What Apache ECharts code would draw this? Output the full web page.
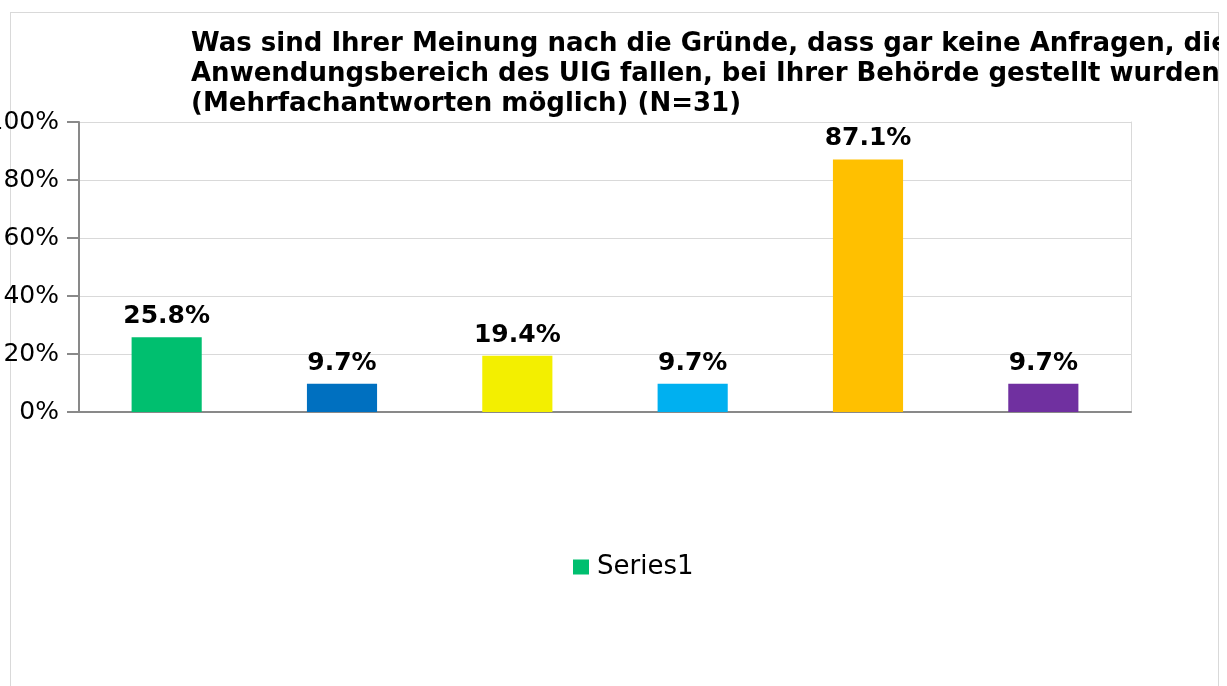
<!DOCTYPE html>
<html>
<head>
<meta charset="utf-8">
<script src="https://cdn.jsdelivr.net/npm/echarts@6/dist/echarts.min.js"></script>
<style>
  html, body { margin: 0; padding: 0; background: #fff; overflow: hidden; }
  #frame { position: absolute; left: 10px; top: 12px; width: 1207px; height: 700px; border: 1px solid #d9d9d9; }
  #chart { position: absolute; left: 0; top: 0; width: 1219px; height: 686px; }
</style>
</head>
<body>
<div id="frame"></div>
<div id="chart"></div>
<script>
// chart data
const categories = ['1', '2', '3', '4', '5', '6'];
const values = [25.8, 9.7, 19.4, 9.7, 87.1, 9.7];
const barColors = ['#00BF6F', '#0070C0', '#F3EF00', '#00B0F0', '#FFC000', '#7030A0'];
const yTicks = [0, 20, 40, 60, 80, 100];
const seriesName = 'Series1';
const titleText = 'Was sind Ihrer Meinung nach die Gründe, dass gar keine Anfragen, die in den\n' +
  'Anwendungsbereich des UIG fallen, bei Ihrer Behörde gestellt wurden?\n' +
  '(Mehrfachantworten möglich) (N=31)';

const font = 'DejaVu Sans, sans-serif';

var chart = echarts.init(document.getElementById('chart'));
chart.setOption({
  animation: false,
  backgroundColor: 'transparent',
  title: {
    text: titleText,
    left: 186,
    top: 24,
    textStyle: { fontFamily: font, fontSize: 26, fontWeight: 'bold', color: '#000', lineHeight: 30 }
  },
  legend: {
    data: [seriesName],
    left: 568,
    top: 549,
    icon: 'rect',
    itemWidth: 16,
    itemHeight: 15,
    itemGap: 8,
    textStyle: { fontFamily: font, fontSize: 26, color: '#000', padding: [0, 0, 0, 3] }
  },
  grid: { left: 79, top: 122, right: 88, bottom: 274, containLabel: false, outerBoundsMode: 'none' },
  xAxis: {
    type: 'category',
    data: categories,
    axisLine: { lineStyle: { color: '#898989', width: 2 } },
    axisTick: { length: 10, lineStyle: { color: '#898989', width: 2 } },
    axisLabel: { show: false }
  },
  yAxis: [
    {
      type: 'value',
      min: yTicks[0],
      max: yTicks[yTicks.length - 1],
      interval: 20,
      axisLine: { show: true, lineStyle: { color: '#898989', width: 2 } },
      axisTick: { show: true, length: 12, lineStyle: { color: '#898989', width: 2 } },
      axisLabel: { formatter: '{value}%', margin: 20, fontFamily: font, fontSize: 25, color: '#000' },
      splitLine: { lineStyle: { color: '#d9d9d9', width: 1 } }
    },
    { // right border of plot area
      type: 'value',
      position: 'right',
      min: 0,
      max: 100,
      axisLine: { show: true, lineStyle: { color: '#d9d9d9', width: 1 } },
      axisTick: { show: false },
      axisLabel: { show: false },
      splitLine: { show: false }
    }
  ],
  series: [{
    name: seriesName,
    type: 'bar',
    barWidth: '40%',
    color: barColors[0],
    data: values.map((v, i) => ({ value: v, itemStyle: { color: barColors[i] } })),
    label: {
      show: true,
      position: 'top',
      distance: 8,
      formatter: p => p.value.toFixed(1) + '%',
      fontFamily: font,
      fontSize: 25,
      fontWeight: 'bold',
      color: '#000'
    }
  }]
});
</script>
</body>
</html>
